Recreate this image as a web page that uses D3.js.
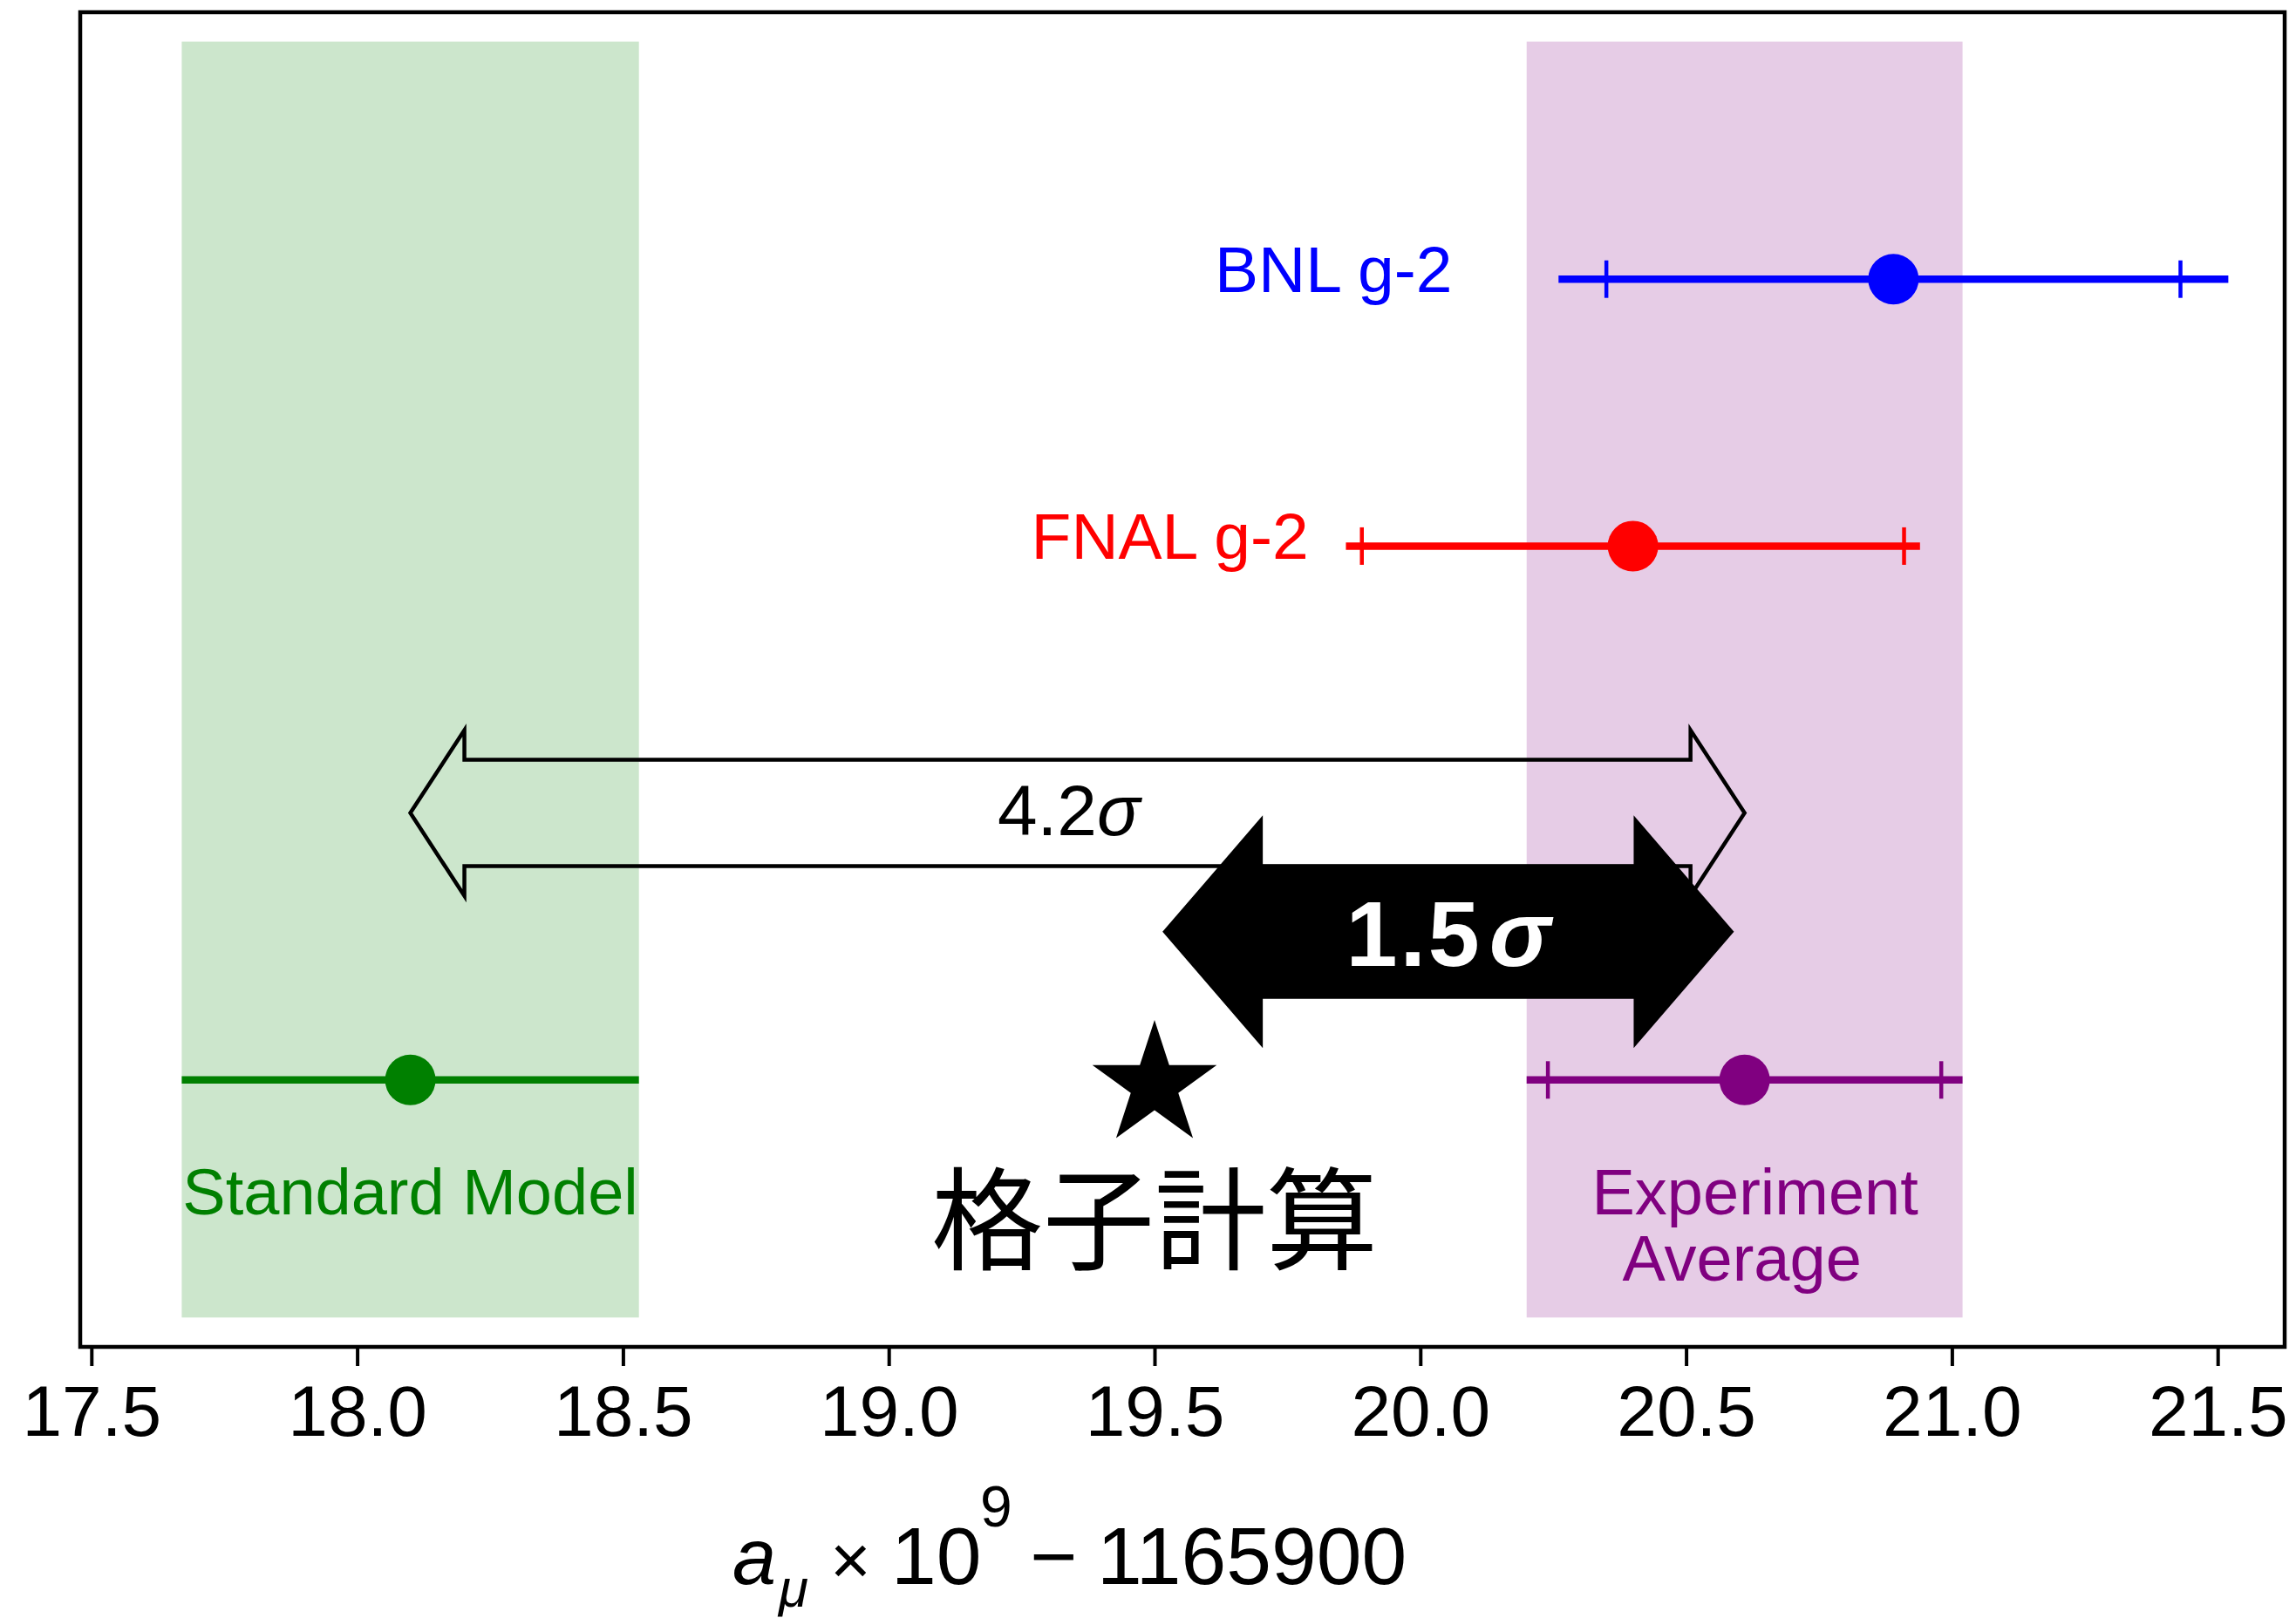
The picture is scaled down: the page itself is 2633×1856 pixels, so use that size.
<!DOCTYPE html>
<html>
<head>
<meta charset="utf-8">
<script src="https://cdn.jsdelivr.net/npm/d3@7"></script>
<style>
  html, body { margin: 0; padding: 0; background: #fff; }
  svg { display: block; }
</style>
</head>
<body>
<svg id="chart" width="2633" height="1856"></svg>
<script>
// Muon anomalous magnetic moment: a_mu x 1e9 - 1165900
const names        = ["BNL g-2", "FNAL g-2", "Experiment Average", "Standard Model"];
const centralVals  = [20.89, 20.40, 20.61, 18.10];
const totalErrs    = [0.63, 0.54, 0.41, 0.43];
const statErrs     = [0.54, 0.51, 0.37, null];
const rows         = [3, 2, 0, 0];
const colors       = ["#0000ff", "#ff0000", "#800080", "#008000"];

// shaded 1-sigma bands
const bandCenters  = [18.10, 20.61];
const bandHalf     = [0.43, 0.41];
const bandColors   = ["#008000", "#800080"];
const bandRows     = [-0.89, 3.89];

// lattice result
const latticeValue = 19.50;
const latticeRow   = -0.02;
const latticeLabel = "格子計算";

// tension arrows
const tensionLabels = ["4.2σ", "1.5σ"];
const tensionFrom   = [18.10, 19.515];
const tensionTo     = [20.61, 20.59];
const tensionRow    = [1.0, 0.555];

// side labels for the two experiments
const expLabelX     = [20.06, 19.79];

// x ticks
const xTicks = [17.5, 18.0, 18.5, 19.0, 19.5, 20.0, 20.5, 21.0, 21.5];

const svg = d3.select("#chart");
const FONT = "'Liberation Sans', Arial, Helvetica, sans-serif";

const L = 92, R = 2620, T = 14, B = 1545;
const x = d3.scaleLinear().domain([17.479, 21.626]).range([L, R]);
const y = d3.scaleLinear().domain([-1, 4]).range([B, T]);

// bands
const g = svg.append("g");
g.selectAll("rect.band")
  .data(bandCenters)
  .join("rect")
  .attr("class", "band")
  .attr("x", (d, i) => x(d - bandHalf[i]))
  .attr("width", (d, i) => x(d + bandHalf[i]) - x(d - bandHalf[i]))
  .attr("y", y(bandRows[1]))
  .attr("height", y(bandRows[0]) - y(bandRows[1]))
  .attr("fill", (d, i) => bandColors[i])
  .attr("fill-opacity", 0.2);

// error bars (total) and caps (statistical)
const pts = names.map((n, i) => ({ n, v: centralVals[i], e: totalErrs[i], s: statErrs[i], r: rows[i], c: colors[i] }));

g.selectAll("line.err")
  .data(pts)
  .join("line")
  .attr("x1", d => x(d.v - d.e))
  .attr("x2", d => x(d.v + d.e))
  .attr("y1", d => y(d.r))
  .attr("y2", d => y(d.r))
  .attr("stroke", d => d.c)
  .attr("stroke-width", 8.5);

const caps = [];
pts.forEach(d => { if (d.s !== null) { caps.push({ x: d.v - d.s, r: d.r, c: d.c }); caps.push({ x: d.v + d.s, r: d.r, c: d.c }); } });
g.selectAll("line.cap")
  .data(caps)
  .join("line")
  .attr("x1", d => x(d.x))
  .attr("x2", d => x(d.x))
  .attr("y1", d => y(d.r) - 21.5)
  .attr("y2", d => y(d.r) + 21.5)
  .attr("stroke", d => d.c)
  .attr("stroke-width", 4.5);

g.selectAll("circle.pt")
  .data(pts)
  .join("circle")
  .attr("cx", d => x(d.v))
  .attr("cy", d => y(d.r))
  .attr("r", 29)
  .attr("fill", d => d.c);

// lattice star
const starR = 75;
g.append("path")
  .attr("d", d3.symbol().type(d3.symbolStar).size(starR * starR / 0.8908130915292852)())
  .attr("transform", `translate(${x(latticeValue)},${y(latticeRow)})`)
  .attr("fill", "#000");

// double-headed arrow outline
function dArrow(x0, x1, cy, shaftHalf, headHalf, headLen) {
  return d3.line()([
    [x0, cy], [x0 + headLen, cy - headHalf], [x0 + headLen, cy - shaftHalf],
    [x1 - headLen, cy - shaftHalf], [x1 - headLen, cy - headHalf], [x1, cy],
    [x1 - headLen, cy + headHalf], [x1 - headLen, cy + shaftHalf],
    [x0 + headLen, cy + shaftHalf], [x0 + headLen, cy + headHalf]
  ]) + "Z";
}

// 4.2 sigma: open arrow
g.append("path")
  .attr("d", dArrow(x(tensionFrom[0]), x(tensionTo[0]), y(tensionRow[0]), 61, 95, 62))
  .attr("fill", "none")
  .attr("stroke", "#000")
  .attr("stroke-width", 4.5)
  .attr("stroke-linejoin", "miter")
  .attr("stroke-miterlimit", 20);

g.append("text")
  .attr("x", (x(tensionFrom[0]) + x(tensionTo[0])) / 2 - 10)
  .attr("y", y(tensionRow[0]) + 25)
  .attr("text-anchor", "middle")
  .attr("font-family", FONT)
  .attr("font-size", 82)
  .attr("fill", "#000")
  .call(t => {
    t.append("tspan").text(tensionLabels[0].slice(0, -1));
    t.append("tspan").attr("font-style", "italic").text(tensionLabels[0].slice(-1));
  });

// 1.5 sigma: solid arrow
g.append("path")
  .attr("d", dArrow(x(tensionFrom[1]), x(tensionTo[1]), y(tensionRow[1]), 77, 133.5, 115))
  .attr("fill", "#000");

g.append("text")
  .attr("x", (x(tensionFrom[1]) + x(tensionTo[1])) / 2)
  .attr("y", y(tensionRow[1]) + 39)
  .attr("text-anchor", "middle")
  .attr("font-family", FONT)
  .attr("font-size", 106)
  .attr("font-weight", "bold")
  .attr("fill", "#fff")
  .call(t => {
    t.append("tspan").attr("letter-spacing", 3).text(tensionLabels[1].slice(0, -1));
    t.append("tspan").attr("dx", 8).attr("font-style", "italic").text(tensionLabels[1].slice(-1));
  });

// experiment labels
g.selectAll("text.exp")
  .data(pts.slice(0, 2))
  .join("text")
  .attr("x", (d, i) => x(expLabelX[i]))
  .attr("y", d => y(d.r) + 15)
  .attr("text-anchor", "end")
  .attr("font-family", FONT)
  .attr("font-size", 75)
  .attr("fill", d => d.c)
  .text(d => d.n);

// band labels
g.append("text")
  .attr("x", x(centralVals[3]))
  .attr("y", 1393)
  .attr("text-anchor", "middle")
  .attr("font-family", FONT)
  .attr("font-size", 74)
  .attr("fill", colors[3])
  .text(names[3]);

const avgLines = names[2].split(" ");
g.append("text")
  .attr("text-anchor", "middle")
  .attr("font-family", FONT)
  .attr("font-size", 74)
  .attr("fill", colors[2])
  .selectAll("tspan")
  .data(avgLines)
  .join("tspan")
  .attr("x", (d, i) => x(centralVals[2]) + (i === 0 ? 12 : -3))
  .attr("y", (d, i) => 1393 + i * 76)
  .text(d => d);

// lattice label
g.append("text")
  .attr("x", x(latticeValue))
  .attr("y", 1447)
  .attr("text-anchor", "middle")
  .attr("font-family", "'Noto Sans CJK JP', 'Noto Sans CJK SC', sans-serif")
  .attr("font-size", 128)
  .attr("fill", "#000")
  .text(latticeLabel);

// frame
svg.append("rect")
  .attr("x", L).attr("y", T)
  .attr("width", R - L).attr("height", B - T)
  .attr("fill", "none")
  .attr("stroke", "#000")
  .attr("stroke-width", 4.5);

// x axis
const xAxis = d3.axisBottom(x)
  .tickValues(xTicks)
  .tickFormat(d3.format(".1f"))
  .tickSize(22)
  .tickPadding(22);
const ax = svg.append("g").attr("transform", `translate(0,${B})`).call(xAxis);
ax.select(".domain").remove();
ax.selectAll(".tick line").attr("stroke", "#000").attr("stroke-width", 4);
ax.selectAll(".tick text")
  .attr("font-family", FONT)
  .attr("font-size", 82)
  .attr("fill", "#000");

// axis title: a_mu x 10^9 - 1165900
const title = svg.append("g").attr("font-family", FONT).attr("fill", "#000");
title.append("text").attr("x", 840).attr("y", 1817).attr("font-size", 90).attr("font-style", "italic").text("a");
title.append("text").attr("x", 893).attr("y", 1843).attr("font-size", 62).attr("font-style", "italic").text("μ");
title.append("text").attr("x", 952).attr("y", 1817).attr("font-size", 80).text("×");
title.append("text").attr("x", 1022).attr("y", 1817).attr("font-size", 93).text("10");
title.append("text").attr("x", 1124).attr("y", 1751).attr("font-size", 66).text("9");
title.append("text").attr("x", 1181).attr("y", 1817).attr("font-size", 93).text("−");
title.append("text").attr("x", 1258).attr("y", 1817).attr("font-size", 93).text("1165900");
</script>
</body>
</html>
